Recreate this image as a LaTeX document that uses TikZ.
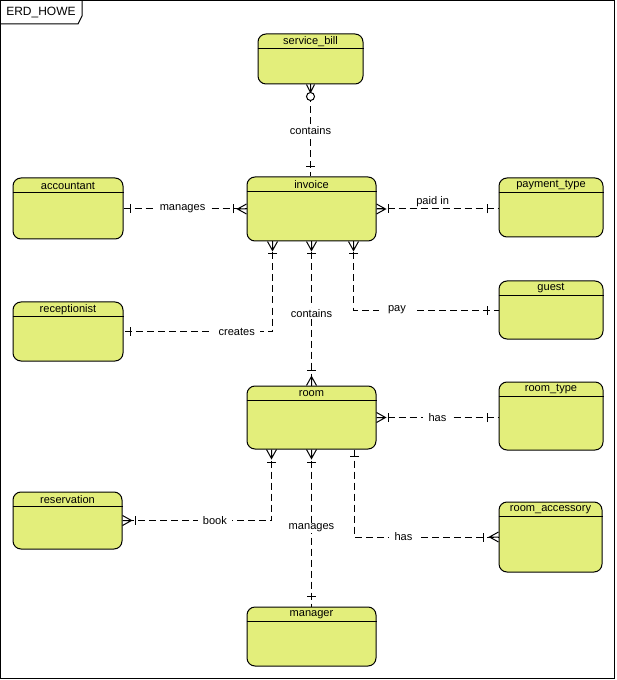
\documentclass[tikz,border=0pt]{standalone}
\usepackage{fontspec}
\setmainfont{Liberation Sans}
\usetikzlibrary{calc}
\definecolor{entfill}{HTML}{E3EE7B}
\tikzset{
  entity/.style={draw=black, fill=entfill, rounded corners=6pt, line width=0.75pt, inner sep=0pt},
  etitle/.style={font=\fontsize{8.3}{9}\selectfont, inner sep=0pt},
  hline/.style={line width=0.75pt},
  rel/.style={draw, line width=0.75pt, dash pattern=on 5.25pt off 3pt},
  cf/.style={line width=0.75pt, solid},
  rlabel/.style={fill=white, font=\fontsize{8.3}{9}\selectfont, inner xsep=4pt, inner ysep=1pt},
  frame/.style={line width=0.75pt},
}
% name, text, cx, cy, w, h (pixels)
\newcommand{\entity}[6]{%
  \node[entity, minimum width=#5*0.75pt, minimum height=#6*0.75pt] (#1) at (#3,-#4) {};
  \node[etitle] (#1-t) at ($(#1.north)+(0,-8)$) {#2};
  \draw[hline] ($(#1.north west)+(0,-15)$) -- ($(#1.north east)+(0,-15)$);
}
\newcommand{\cfmany}[2]{\begin{scope}[shift={#1},rotate=#2]\draw[cf] (0,5)--(9,0)--(0,-5) (0,0)--(9,0);\end{scope}}
\newcommand{\cfmanys}[2]{\begin{scope}[shift={#1},rotate=#2]\draw[cf] (0,4)--(8,0)--(0,-4) (0,0)--(8,0);\end{scope}}
\newcommand{\cfbar}[3]{\begin{scope}[shift={#1},rotate=#2]\draw[cf] (#3,4.5)--(#3,-4.5);\end{scope}}
\newcommand{\cfzero}[3]{\begin{scope}[shift={#1},rotate=#2]\draw[cf,fill=white] (#3,0) circle[radius=4];\end{scope}}
\begin{document}
\begin{tikzpicture}[x=0.75pt,y=0.75pt]
\useasboundingbox (0,0) rectangle (616,-680);
% frame
\draw[frame] (0.5,-0.5) rectangle (614.5,-678.5);
\draw[frame] (0.5,-24) -- (78,-24) -- (82,-16) -- (82,-0.5);
\node[font=\fontsize{9}{10}\selectfont, inner sep=0pt] (title) at (41,-12.5) {ERD\_HOWE};
% entities
\entity{servicebill}{service\_bill}{310.5}{59}{105}{50}
\entity{accountant}{accountant}{68}{208.5}{110}{61}
\entity{invoice}{invoice}{311.5}{209}{129}{64}
\entity{paymenttype}{payment\_type}{551}{207.5}{104}{59}
\entity{receptionist}{receptionist}{68}{331.5}{110}{59}
\entity{guest}{guest}{551}{310}{104}{58}
\entity{room}{room}{311.5}{417.5}{129}{63}
\entity{roomtype}{room\_type}{551}{416}{104}{68}
\entity{reservation}{reservation}{67.5}{520.5}{109}{57}
\entity{roomaccessory}{room\_accessory}{550.5}{537}{103}{70}
\entity{manager}{manager}{311.5}{636.5}{129}{59}
% connector end points
\coordinate (sbB) at (servicebill.south);
\coordinate (invT) at (servicebill.south |- invoice.north);
\coordinate (accR) at (accountant.east |- invoice.west);
\coordinate (ptL) at (invoice.east -| paymenttype.west);
\coordinate (invB1) at ($(invoice.south west)+(26,0)$);
\coordinate (invB3) at ($(invoice.south east)+(-23,0)$);
\coordinate (recR) at (receptionist.east);
\coordinate (rtL) at (room.east -| roomtype.west);
\coordinate (roomB1) at ($(room.south west)+(25,0)$);
\coordinate (roomB3) at ($(room.south east)+(-22,0)$);
% connectors
\draw[rel] (sbB) -- (invT) node[rlabel, pos=.5] (l1) {contains};
\draw[rel] (accR) -- (invoice.west) node[rlabel, pos=.48] (l2) {manages};
\draw[rel] (invoice.east) -- (ptL) node[pos=.46, anchor=south, font=\fontsize{8.3}{9}\selectfont, inner sep=1pt] (l3) {paid in};
\draw[rel] (invB1) |- (recR) node[rlabel, pos=.62] (l4) {creates};
\draw[rel] (invoice.south) -- (room.north) node[rlabel, pos=.5] (l5) {contains};
\draw[rel] (invB3) |- (guest.west) node[rlabel, pos=.65, inner xsep=7pt] (l6) {pay};
\draw[rel] (room.east) -- (rtL) node[rlabel, pos=.5] (l7) {has};
\draw[rel] (roomB1) |- (reservation.east) node[rlabel, pos=.69] (l8) {book};
\draw[rel] (room.south) -- (manager.north) node[rlabel, pos=.5] (l9) {manages};
\draw[rel] (roomB3) |- (roomaccessory.west) node[rlabel, pos=.67] (l10) {has};
% ends
\cfmanys{(sbB)}{-90} \cfzero{(sbB)}{-90}{12}
\cfbar{(invT)}{90}{10}
\cfbar{(accR)}{0}{7}
\cfmany{(invoice.west)}{180} \cfbar{(invoice.west)}{180}{13}
\cfmany{(invoice.east)}{0} \cfbar{(invoice.east)}{0}{12}
\cfbar{(ptL)}{180}{11}
\cfmany{(invB1)}{-90} \cfbar{(invB1)}{-90}{12}
\cfbar{(recR)}{0}{7}
\cfmany{(invoice.south)}{-90} \cfbar{(invoice.south)}{-90}{12}
\cfmany{(room.north)}{90} \cfbar{(room.north)}{90}{15}
\cfmany{(invB3)}{-90} \cfbar{(invB3)}{-90}{12}
\cfbar{(guest.west)}{180}{11}
\cfmany{(room.east)}{0} \cfbar{(room.east)}{0}{12}
\cfbar{(rtL)}{180}{11}
\cfmany{(roomB1)}{-90} \cfbar{(roomB1)}{-90}{13}
\cfmany{(reservation.east)}{0} \cfbar{(reservation.east)}{0}{13}
\cfmany{(room.south)}{-90} \cfbar{(room.south)}{-90}{13}
\cfbar{(manager.north)}{90}{10}
\cfbar{(roomB3)}{-90}{7}
\cfmany{(roomaccessory.west)}{180} \cfbar{(roomaccessory.west)}{180}{15}
\end{tikzpicture}
\end{document}
